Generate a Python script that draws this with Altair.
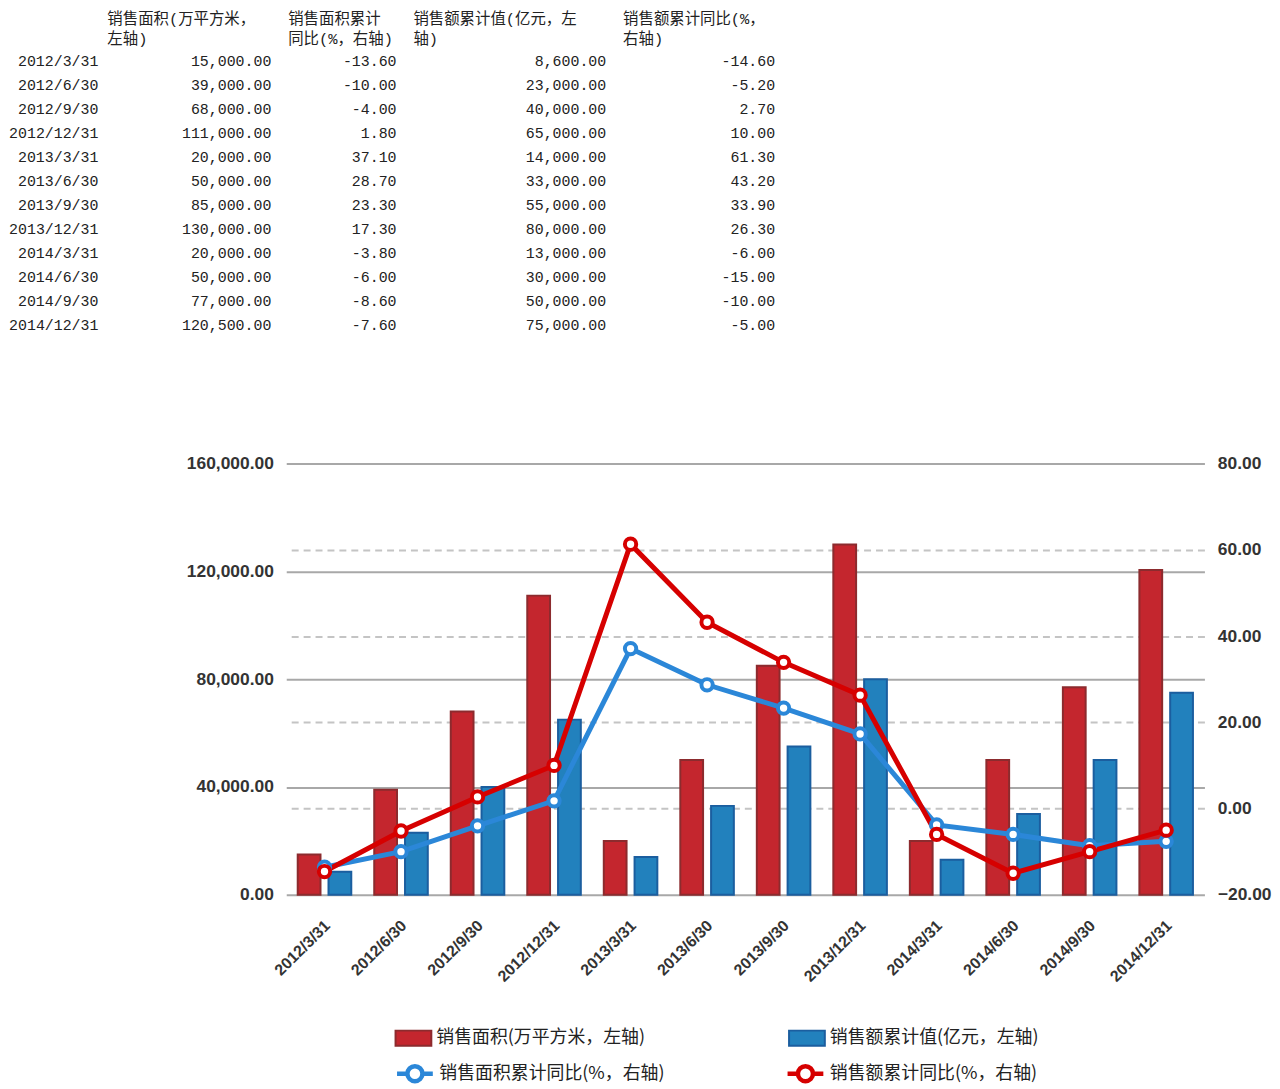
import altair as alt
import pandas as pd

# ---------------- data ----------------
dates = ["2012/3/31", "2012/6/30", "2012/9/30", "2012/12/31",
         "2013/3/31", "2013/6/30", "2013/9/30", "2013/12/31",
         "2014/3/31", "2014/6/30", "2014/9/30", "2014/12/31"]
area = [15000, 39000, 68000, 111000, 20000, 50000, 85000, 130000, 20000, 50000, 77000, 120500]
area_yoy = [-13.6, -10.0, -4.0, 1.8, 37.1, 28.7, 23.3, 17.3, -3.8, -6.0, -8.6, -7.6]
sales = [8600, 23000, 40000, 65000, 14000, 33000, 55000, 80000, 13000, 30000, 50000, 75000]
sales_yoy = [-14.6, -5.2, 2.7, 10.0, 61.3, 43.2, 33.9, 26.3, -6.0, -15.0, -10.0, -5.0]

S_AREA = "销售面积(万平方米，左轴)"
S_SALES = "销售额累计值(亿元，左轴)"
S_AREA_YOY = "销售面积累计同比(%，右轴)"
S_SALES_YOY = "销售额累计同比(%，右轴)"

headers = [["销售面积(万平方米，", "左轴)"],
           ["销售面积累计", "同比(%，右轴)"],
           ["销售额累计值(亿元，左", "轴)"],
           ["销售额累计同比(%，", "右轴)"]]

# ---------------- tables for the library ----------------
bar_df = pd.DataFrame(
    [{"date": d, "series": S_AREA, "value": v} for d, v in zip(dates, area)]
    + [{"date": d, "series": S_SALES, "value": v} for d, v in zip(dates, sales)]
)
line_df = pd.DataFrame(
    [{"date": d, "series": S_AREA_YOY, "value": v} for d, v in zip(dates, area_yoy)]
    + [{"date": d, "series": S_SALES_YOY, "value": v} for d, v in zip(dates, sales_yoy)]
)

cells = []
for i, d in enumerate(dates):
    cols = [d, f"{area[i]:,.2f}", f"{area_yoy[i]:.2f}", f"{sales[i]:,.2f}", f"{sales_yoy[i]:.2f}"]
    for c, t in enumerate(cols):
        cells.append({"row": i, "col": c, "text": t})
cell_df = pd.DataFrame(cells)

hdr = []
for c, lines_ in enumerate(headers):
    for r, t in enumerate(lines_):
        hdr.append({"row": r, "col": c + 1, "text": t})
hdr_df = pd.DataFrame(hdr)

# ---------------- styles ----------------
AX_FONT = "Liberation Sans"
CJK = "Noto Sans CJK SC"
TBL_FONT = "Liberation Mono, Noto Sans CJK SC"

W, H = 924, 434

# table (above the plot)
table_vals = alt.Chart(cell_df).mark_text(
    align="right", baseline="middle", font=TBL_FONT, fontSize=15, color="#222222"
).encode(
    x=alt.X("col:Q", scale=alt.Scale(domain=[0, 1, 2, 3, 4], range=[-189, -15, 111, 322, 492], nice=False, zero=False), axis=None),
    y=alt.Y("row:Q", scale=alt.Scale(domain=[0, 11], range=[-405, -139], nice=False, zero=False), axis=None),
    text="text:N",
)

table_hdr = alt.Chart(hdr_df).mark_text(
    align="left", baseline="middle", font=TBL_FONT, fontSize=15.5, color="#222222"
).encode(
    x=alt.X("col:Q", scale=alt.Scale(domain=[1, 2, 3, 4], range=[-180, 2, 128, 339], nice=False, zero=False), axis=None),
    y=alt.Y("row:Q", scale=alt.Scale(domain=[0, 1], range=[-447, -427], nice=False, zero=False), axis=None),
    text="text:N",
)

bar_legend = alt.Legend(
    title=None, orient="none", legendX=109, legendY=559, direction="horizontal", columns=2,
    columnPadding=140, labelFont=CJK, labelFontSize=18, labelColor="#222222", labelOffset=4,
    symbolType="M-1,-0.42H1V0.42H-1Z", symbolSize=1296, symbolStrokeWidth=2, labelLimit=400,
)

bars = alt.Chart(bar_df).mark_bar(strokeWidth=2).encode(
    x=alt.X("date:N", sort=dates, title=None,
            scale=alt.Scale(paddingInner=0.3, paddingOuter=0.15),
            axis=alt.Axis(orient="bottom", labelAngle=-45, labelAlign="right", labelBaseline="middle",
                          labelFont=AX_FONT, labelFontWeight="bold", labelFontSize=16, labelColor="#333333",
                          labelPadding=28, labelOffset=3, ticks=False, domain=False, grid=False)),
    xOffset=alt.XOffset("series:N", sort=[S_AREA, S_SALES], scale=alt.Scale(paddingInner=0.26, paddingOuter=0)),
    y=alt.Y("value:Q", title=None, scale=alt.Scale(domain=[0, 160000], nice=False),
            axis=alt.Axis(orient="left", values=[0, 40000, 80000, 120000, 160000], format=",.2f",
                          labelFont=AX_FONT, labelFontWeight="bold", labelFontSize=17.5, labelColor="#333333",
                          labelPadding=13, ticks=False, domain=False,
                          grid=True, gridColor="#a8a8a8", gridWidth=2)),
    fill=alt.Fill("series:N", scale=alt.Scale(domain=[S_AREA, S_SALES], range=["#c4262e", "#2281bd"]),
                  legend=bar_legend),
    stroke=alt.Stroke("series:N", scale=alt.Scale(domain=[S_AREA, S_SALES], range=["#8c2b2e", "#1b5e9f"]),
                      legend=bar_legend),
)

line_legend = alt.Legend(
    title=None, orient="none", legendX=109, legendY=593, direction="horizontal", columns=2,
    columnPadding=114, labelFont=CJK, labelFontSize=18, labelColor="#222222", labelOffset=4,
    symbolType="M-1,0H-0.42M0.42,0H1M-0.42,0A0.42,0.42 0 1,0 0.42,0A0.42,0.42 0 1,0 -0.42,0Z",
    symbolSize=1296, symbolStrokeWidth=4.5, symbolFillColor="white", labelLimit=400,
)

lines = alt.Chart(line_df).mark_line(
    strokeWidth=5,
    point=alt.OverlayMarkDef(filled=False, fill="white", size=130, strokeWidth=4, opacity=1),
).encode(
    x=alt.X("date:N", sort=dates, title=None, scale=alt.Scale(type="point", padding=0.5), axis=None),
    y=alt.Y("value:Q", title=None, scale=alt.Scale(domain=[-20, 80], nice=False),
            axis=alt.Axis(orient="right", values=[-20, 0, 20, 40, 60, 80], format=".2f",
                          labelFont=AX_FONT, labelFontWeight="bold", labelFontSize=17.5, labelColor="#333333",
                          labelPadding=13, ticks=False, domain=False,
                          grid=True, gridColor="#c4c4c4", gridWidth=2, gridDash=[7, 5],
                          gridOpacity=alt.condition("datum.value > -20 && datum.value < 80",
                                                    alt.value(1), alt.value(0)))),
    color=alt.Color("series:N", scale=alt.Scale(domain=[S_AREA_YOY, S_SALES_YOY], range=["#2b87d8", "#d60000"]),
                    legend=line_legend),
    order=alt.Order("series:N"),
)

chart = alt.layer(table_hdr, table_vals, bars, lines).resolve_scale(
    x="independent", y="independent"
).properties(
    width=W, height=H, padding={"left": 0, "top": 1, "right": 0, "bottom": 0}
).configure_view(stroke=None)

chart.save("out.html", embed_options={"renderer": "svg", "actions": False})
